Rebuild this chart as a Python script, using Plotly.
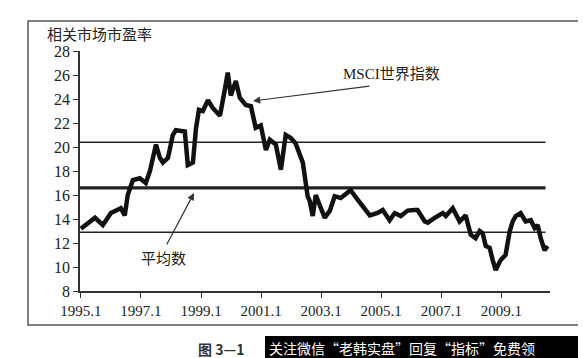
import plotly.graph_objects as go

# Decimal year (1995.00 = Jan 1995) and P/E values
dates = [1995.00, 1995.20, 1995.47, 1995.73, 1996.00, 1996.33, 1996.46, 1996.56, 1996.73,
         1996.96, 1997.16, 1997.30, 1997.50, 1997.63, 1997.73, 1997.90, 1998.06, 1998.16,
         1998.46, 1998.56, 1998.73, 1998.83, 1998.93, 1999.06, 1999.23, 1999.39, 1999.63,
         1999.79, 1999.89, 1999.99, 2000.16, 2000.29, 2000.49, 2000.66, 2000.82, 2000.99,
         2001.16, 2001.29, 2001.49, 2001.66, 2001.82, 2001.99, 2002.15, 2002.39, 2002.55,
         2002.62, 2002.72, 2002.82, 2003.12, 2003.29, 2003.45, 2003.65, 2003.89, 2003.98,
         2004.22, 2004.45, 2004.62, 2004.88, 2005.05, 2005.28, 2005.45, 2005.65, 2005.88,
         2006.11, 2006.21, 2006.45, 2006.55, 2006.78, 2007.05, 2007.15, 2007.38, 2007.61,
         2007.81, 2007.98, 2008.14, 2008.28, 2008.38, 2008.48, 2008.61, 2008.71, 2008.81,
         2008.98, 2009.14, 2009.28, 2009.38, 2009.48, 2009.64, 2009.81, 2009.98, 2010.11,
         2010.21, 2010.31, 2010.44, 2010.54]
pe = [13.2, 13.6, 14.1, 13.5, 14.5, 14.9, 14.3, 16.0, 17.25,
      17.4, 17.0, 18.0, 20.2, 19.1, 18.7, 19.1, 21.0, 21.4,
      21.3, 18.5, 18.7, 21.5, 23.1, 23.0, 23.9, 23.25, 22.6,
      24.75, 26.2, 24.3, 25.5, 24.1, 23.5, 23.4, 21.6, 21.8,
      19.75, 20.6, 20.2, 18.1, 21.0, 20.75, 20.3, 18.7, 15.9,
      15.5, 14.25, 16.0, 14.1, 14.7, 15.9, 15.75, 16.2, 16.4,
      15.6, 14.9, 14.3, 14.5, 14.75, 13.9, 14.5, 14.25, 14.7,
      14.75, 14.75, 13.8, 13.7, 14.1, 14.5, 14.25, 14.9, 13.8,
      14.3, 12.7, 12.4, 13.0, 12.8, 11.75, 11.6, 10.6, 9.75,
      10.6, 11.0, 13.0, 13.8, 14.25, 14.5, 13.8, 13.9, 13.25,
      13.5, 12.4, 11.4, 11.75]

ref_levels = [20.4, 16.6, 12.9]          # upper band, mean, lower band
ref_widths = [1.5, 3.2, 1.5]
ref_span = [1994.97, 2010.47]

tick_vals = [1995, 1997, 1999, 2001, 2003, 2005, 2007, 2009]
tick_text = ["1995.1", "1997.1", "1999.1", "2001.1", "2003.1", "2005.1", "2007.1", "2009.1"]

fig = go.Figure()
for lvl, w in zip(ref_levels, ref_widths):
    fig.add_trace(go.Scatter(x=ref_span, y=[lvl, lvl], mode="lines",
                             line=dict(color="#222222", width=w), hoverinfo="skip"))
fig.add_trace(go.Scatter(x=dates, y=pe, mode="lines",
                         line=dict(color="#111111", width=4.5, shape="linear")))

serif = "Liberation Serif, Times New Roman, serif"
cjk = "Noto Sans CJK SC"

def px(xp):
    return (xp - 72) / 470

def py(yp):
    return (283 - yp) / 240

fig.update_layout(
    width=586, height=358,
    paper_bgcolor="white", plot_bgcolor="white",
    margin=dict(l=72, r=44, t=43, b=75),
    showlegend=False,
    xaxis=dict(range=[1994.97, 2010.62], tickvals=tick_vals, ticktext=tick_text,
               showgrid=False, zeroline=False, showline=True, linecolor="#333",
               linewidth=1.5, ticks="outside", ticklen=5, tickcolor="#333",
               tickfont=dict(family=serif, size=15, color="#222")),
    yaxis=dict(range=[8, 28], dtick=2, showgrid=False, zeroline=False,
               showline=True, linecolor="#333", linewidth=1.5, ticks="outside",
               ticklen=5, tickcolor="#333",
               tickfont=dict(family=serif, size=16, color="#222")),
    shapes=[
        dict(type="rect", xref="paper", yref="paper", x0=px(20), x1=px(573),
             y0=py(317), y1=py(13), line=dict(color="#555", width=1.5)),
        dict(type="rect", xref="paper", yref="paper", x0=px(257), x1=px(600),
             y0=py(360), y1=py(328), fillcolor="black", line=dict(width=0)),
    ],
    annotations=[
        dict(text="相关市场市盈率", xref="paper", yref="paper", x=px(37),
             y=py(25), xanchor="left", yanchor="middle", showarrow=False,
             font=dict(family=cjk, size=15, color="#222")),
        dict(text="MSCI世界指数", xref="paper", yref="paper", x=px(383),
             y=py(66), xanchor="center", yanchor="middle", showarrow=False,
             font=dict(family=serif + ", " + cjk, size=15, color="#222")),
        dict(x=px(245), y=py(93), xref="paper", yref="paper",
             ax=118, ay=-15, showarrow=True, arrowhead=2, arrowsize=1.2,
             arrowwidth=1.2, arrowcolor="#333", text=""),
        dict(text="平均数", xref="paper", yref="paper", x=px(155),
             y=py(249), xanchor="center", yanchor="middle", showarrow=False,
             font=dict(family=cjk, size=15, color="#222")),
        dict(x=px(186), y=py(185), xref="paper", yref="paper",
             ax=-28, ay=53, showarrow=True, arrowhead=2, arrowsize=1.2,
             arrowwidth=1.2, arrowcolor="#333", text=""),
        dict(text="<b>图 3—1</b>", xref="paper", yref="paper", x=px(213),
             y=py(341), xanchor="center", yanchor="middle", showarrow=False,
             font=dict(family=cjk, size=14, color="#333")),
        dict(text="关注微信“老韩实盘”回复“指标”免费领", xref="paper", yref="paper",
             x=px(260), y=py(340), xanchor="left", yanchor="middle",
             borderpad=0, showarrow=False,
             font=dict(family=cjk, size=14, color="white")),
    ],
)

fig.write_html("out.html")
